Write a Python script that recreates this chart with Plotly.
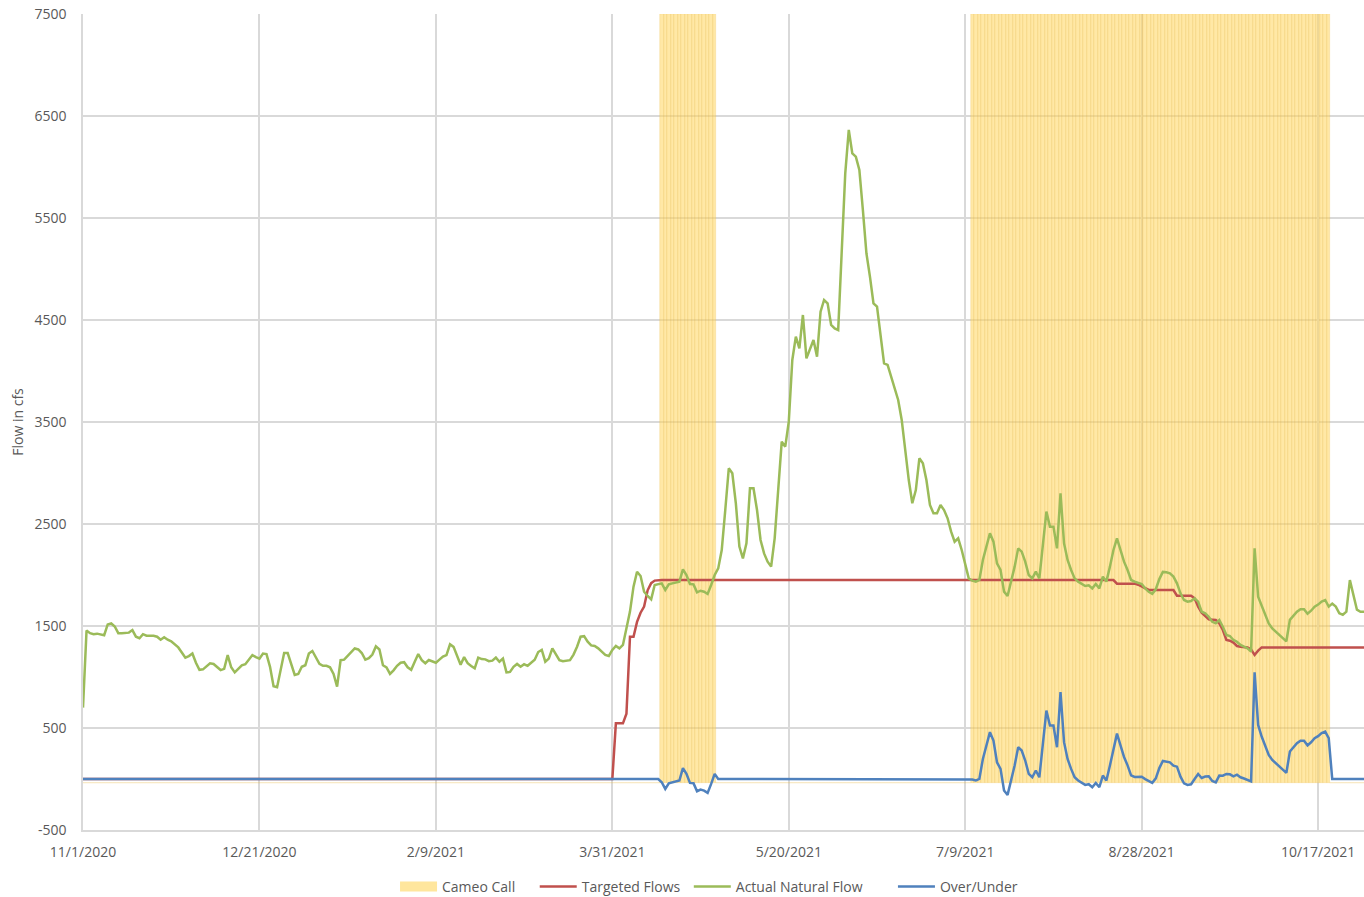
import pandas as pd
import plotly.graph_objects as go

# ---------------- data (daily, starting 11/1/2020) ----------------
start_date = "2020-11-01"

actual_natural_flow = [
    700, 1455, 1430, 1420, 1425, 1420, 1410, 1515, 1525, 1495,
    1430, 1430, 1430, 1435, 1460, 1395, 1380, 1420, 1405, 1405,
    1405, 1395, 1365, 1390, 1365, 1350, 1315, 1290, 1240, 1190,
    1205, 1230, 1140, 1070, 1075, 1110, 1135, 1128, 1100, 1068,
    1080, 1215, 1095, 1045, 1080, 1115, 1125, 1170, 1215, 1195,
    1180, 1230, 1225, 1100, 910, 900, 1070, 1235, 1235, 1130,
    1020, 1030, 1100, 1115, 1230, 1255, 1185, 1130, 1110, 1110,
    1095, 1030, 905, 1165, 1170, 1205, 1250, 1280, 1270, 1235,
    1170, 1185, 1220, 1300, 1270, 1115, 1095, 1030, 1065, 1110,
    1140, 1145, 1095, 1070, 1150, 1225, 1165, 1135, 1167, 1150,
    1140, 1170, 1200, 1215, 1320, 1295, 1215, 1120, 1195, 1135,
    1108, 1085, 1190, 1176, 1173, 1155, 1160, 1190, 1150, 1180,
    1045, 1050, 1100, 1128, 1100, 1125, 1110, 1140, 1170, 1245,
    1265, 1150, 1180, 1280, 1225, 1165, 1155, 1157, 1165, 1220,
    1297, 1395, 1400, 1346, 1310, 1304, 1281, 1248, 1216, 1206,
    1265, 1304, 1281, 1314, 1493, 1641, 1886, 2032, 1990, 1836,
    1794, 1761, 1902, 1912, 1918, 1853, 1908, 1918, 1925, 1935,
    2056, 2000, 1912, 1908, 1830, 1846, 1836, 1814, 1902, 2000,
    2065, 2245, 2637, 3046, 2997, 2703, 2278, 2163, 2310, 2850,
    2850, 2637, 2343, 2212, 2131, 2082, 2360, 2801, 3307, 3258,
    3503, 4108, 4337, 4222, 4549, 4124, 4206, 4304, 4141, 4582,
    4696, 4663, 4451, 4418, 4402, 5100, 5938, 6363, 6134, 6101,
    5971, 5578, 5154, 4925, 4663, 4631, 4337, 4075, 4059, 3944,
    3814, 3716, 3520, 3225, 2931, 2703, 2833, 3144, 3095, 2931,
    2686, 2605, 2605, 2686, 2637, 2556, 2425, 2327, 2360, 2245,
    2114, 1967, 1944, 1935, 1951, 2147, 2278, 2409, 2327, 2114,
    2049, 1837, 1794, 1935, 2082, 2261, 2229, 2131, 2000, 1967,
    2033, 1967, 2294, 2621, 2474, 2474, 2261, 2801, 2311, 2147,
    2049, 1967, 1935, 1912, 1892, 1899, 1869, 1912, 1869, 1984,
    1935, 2082, 2245, 2360, 2245, 2131, 2049, 1951, 1935, 1925,
    1912, 1869, 1835, 1815, 1860, 1960, 2030, 2026, 2016, 1984,
    1918, 1820, 1755, 1739, 1745, 1771, 1739, 1640, 1624, 1591,
    1542, 1526, 1559, 1493, 1412, 1402, 1363, 1346, 1314, 1297,
    1281, 1248, 2261, 1788, 1706, 1608, 1526, 1477, 1444, 1412,
    1380, 1350, 1560, 1600, 1640, 1665, 1665, 1620, 1650, 1690,
    1710, 1740, 1755, 1690, 1720, 1690, 1625, 1610, 1640, 1950,
    1790, 1660, 1640, 1640,
]

targeted_flows = (
    [0] * 151
    + [546, 546, 546, 640, 1395, 1395, 1540, 1630, 1690, 1850, 1920, 1945]
    + [1950] * 130
    + [1915, 1915, 1915, 1915, 1915, 1915, 1905, 1890, 1870]
    + [1853] * 8
    + [1797] * 5
    + [1771, 1690, 1630, 1600, 1565, 1562, 1559, 1526, 1461, 1363,
       1356, 1337, 1304, 1297, 1292, 1290, 1271, 1216, 1258, 1290]
    + [1290] * 29
)

# Cameo Call in effect (1) or not (0), per day
cameo_call = [0] * 164 + [1] * 16 + [0] * 72 + [1] * 102 + [0] * 10

# Over/Under = actual - targeted while the call is on, else 0
over_under = [
    (a - t) if c else 0
    for a, t, c in zip(actual_natural_flow, targeted_flows, cameo_call)
]

tick_dates = ["2020-11-01", "2020-12-21", "2021-02-09", "2021-03-31",
              "2021-05-20", "2021-07-09", "2021-08-28", "2021-10-17"]
tick_labels = ["11/1/2020", "12/21/2020", "2/9/2021", "3/31/2021",
               "5/20/2021", "7/9/2021", "8/28/2021", "10/17/2021"]
y_ticks = [-500, 500, 1500, 2500, 3500, 4500, 5500, 6500, 7500]

series_names = ["Cameo Call", "Targeted Flows", "Actual Natural Flow", "Over/Under"]

# ---------------- figure ----------------
dates = pd.date_range(start_date, periods=len(actual_natural_flow), freq="D")

FONT = "Open Sans, Lato, DejaVu Sans, sans-serif"
TXT = "#595959"
GRID = "#D9D9D9"
YELLOW = "rgba(255,214,92,0.55)"
NB = "\u00a0"
legend_pad = [4, 1, 7, 0]  # invisible trailing padding to mimic legend spacing


def legend_label(i):
    return series_names[i] + NB * legend_pad[i]


call_bottom, call_top = -40, 7500
fig = go.Figure()
fig.add_trace(go.Bar(
    x=dates,
    y=[c * (call_top - call_bottom) for c in cameo_call],
    base=call_bottom,
    width=86400000,
    name=series_names[0],
    showlegend=False,
    legendgroup="cameo",
    marker=dict(color=YELLOW, line=dict(width=0.6, color="rgba(236,190,70,0.35)")),
))
# legend swatch for the Cameo Call bars (wide rectangle like the original)
fig.add_trace(go.Scatter(x=[None], y=[None], mode="lines", name=legend_label(0),
                         legendgroup="cameo",
                         line=dict(color="rgba(255,214,92,0.6)", width=11)))
fig.add_trace(go.Scatter(x=dates, y=targeted_flows, mode="lines",
                         name=legend_label(1),
                         line=dict(color="#C0504D", width=2.5)))
fig.add_trace(go.Scatter(x=dates, y=actual_natural_flow, mode="lines",
                         name=legend_label(2),
                         line=dict(color="#9BBB59", width=2.5)))
fig.add_trace(go.Scatter(x=dates, y=over_under, mode="lines",
                         name=legend_label(3),
                         line=dict(color="#4F81BD", width=2.5)))

fig.update_layout(
    width=1364, height=897,
    margin=dict(l=83, r=0, t=14, b=67, autoexpand=False),
    paper_bgcolor="white", plot_bgcolor="white",
    font=dict(family=FONT, size=14, color=TXT),
    showlegend=True,
    legend=dict(orientation="h", x=0.4887, xanchor="center",
                y=-0.0698, yanchor="middle",
                font=dict(family=FONT, size=14, color=TXT),
                itemwidth=37, tracegroupgap=0, bgcolor="rgba(0,0,0,0)"),
    bargap=0,
)
fig.update_xaxes(
    type="date",
    range=[dates[0], dates[-1]],
    tickmode="array", tickvals=pd.to_datetime(tick_dates), ticktext=tick_labels,
    showgrid=True, gridcolor=GRID, gridwidth=1.5,
    showline=True, linecolor=GRID, linewidth=1.5,
    ticks="", ticklabelstandoff=8,
    tickfont=dict(family=FONT, size=14, color=TXT),
    zeroline=False,
)
fig.update_yaxes(
    range=[-500, 7500],
    tickmode="array", tickvals=y_ticks, ticktext=[str(v) for v in y_ticks],
    showgrid=True, gridcolor=GRID, gridwidth=1.5,
    showline=True, linecolor=GRID, linewidth=1.5,
    ticks="", ticklabelstandoff=12,
    tickfont=dict(family=FONT, size=14, color=TXT),
    zeroline=False,
    title=dict(text="Flow in cfs", standoff=8,
               font=dict(family=FONT, size=14, color=TXT)),
)

fig.write_html("out.html",
               config={"displayModeBar": False},
               post_script="document.body.style.margin='0';document.body.style.overflow='hidden';")
